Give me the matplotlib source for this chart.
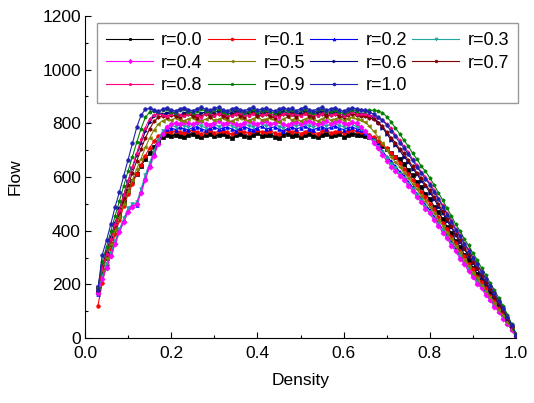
import numpy as np
import matplotlib
matplotlib.use("Agg")
import matplotlib.pyplot as plt
from matplotlib.ticker import MultipleLocator

plt.rcParams['font.family'] = ['Liberation Sans', 'DejaVu Sans']

# Density grid (0.03 ... 1.00, step 0.01)
density = np.round(np.arange(3, 101) / 100, 2)

labels = ["r=0.0", "r=0.1", "r=0.2", "r=0.3", "r=0.4", "r=0.5",
          "r=0.6", "r=0.7", "r=0.8", "r=0.9", "r=1.0"]

flow_r00 = [172, 250, 298, 352, 405, 455, 505, 548, 585, 612,
            640, 668, 690, 712, 732, 748, 756, 752, 758, 754,
            750, 757, 760, 753, 748, 755, 762, 751, 756, 759,
            752, 746, 755, 760, 754, 749, 757, 763, 752, 755,
            758, 750, 744, 756, 761, 753, 757, 748, 755, 760,
            754, 748, 757, 762, 751, 755, 759, 750, 757, 762,
            758, 756, 754, 750, 742, 730, 716, 703, 688, 676,
            666, 650, 625, 606, 580, 561, 536, 518, 490, 468,
            444, 415, 392, 362, 340, 311, 290, 262, 240, 213,
            190, 168, 141, 119, 91, 67, 38, 12]
flow_r01 = [120, 205, 272, 330, 386, 440, 492, 536, 574, 612,
            646, 680, 708, 734, 752, 763, 770, 766, 772, 767,
            763, 770, 774, 766, 761, 769, 775, 765, 770, 773,
            766, 760, 769, 774, 768, 763, 771, 777, 766, 769,
            772, 764, 759, 770, 775, 767, 771, 762, 769, 774,
            768, 762, 771, 776, 765, 769, 773, 764, 771, 775,
            770, 768, 765, 758, 748, 735, 722, 707, 690, 673,
            654, 631, 613, 588, 570, 544, 527, 501, 480, 452,
            428, 406, 377, 355, 326, 305, 276, 256, 229, 209,
            186, 158, 137, 110, 89, 62, 38, 9]
flow_r02 = [165, 226, 268, 312, 356, 402, 440, 478, 492, 497,
            546, 600, 646, 690, 728, 764, 778, 782, 777, 785,
            780, 776, 784, 788, 779, 774, 782, 787, 778, 783,
            786, 779, 773, 782, 788, 780, 776, 784, 789, 779,
            783, 787, 778, 772, 781, 786, 779, 784, 789, 780,
            776, 783, 788, 779, 785, 790, 781, 777, 784, 786,
            780, 776, 765, 752, 737, 718, 697, 676, 659, 640,
            620, 605, 582, 562, 538, 520, 496, 477, 452, 430,
            405, 383, 356, 334, 307, 285, 258, 237, 213, 192,
            170, 146, 125, 100, 80, 55, 33, 7]
flow_r03 = [175, 232, 275, 318, 362, 405, 446, 484, 498, 505,
            555, 608, 652, 698, 738, 770, 786, 792, 787, 795,
            790, 785, 793, 797, 789, 784, 792, 796, 788, 793,
            796, 789, 783, 792, 798, 790, 786, 794, 799, 789,
            793, 797, 788, 782, 791, 796, 789, 794, 799, 790,
            786, 793, 798, 789, 795, 800, 791, 787, 794, 796,
            788, 780, 766, 750, 733, 713, 693, 670, 650, 632,
            613, 596, 574, 555, 532, 513, 490, 470, 445, 424,
            401, 375, 352, 326, 304, 278, 256, 230, 210, 186,
            165, 143, 121, 99, 76, 54, 31, 7]
flow_r04 = [168, 220, 262, 305, 350, 395, 432, 470, 488, 500,
            540, 590, 637, 680, 722, 760, 785, 798, 802, 797,
            805, 800, 796, 804, 808, 799, 795, 803, 807, 798,
            802, 806, 797, 793, 802, 808, 800, 796, 804, 809,
            799, 803, 807, 798, 792, 801, 806, 799, 804, 809,
            800, 796, 803, 808, 799, 805, 810, 801, 797, 804,
            800, 786, 770, 749, 727, 707, 683, 661, 639, 623,
            604, 590, 566, 549, 524, 507, 482, 464, 438, 419,
            392, 372, 344, 324, 296, 276, 248, 229, 203, 185,
            160, 142, 116, 98, 72, 54, 28, 6]
flow_r05 = [185, 252, 300, 352, 401, 452, 500, 546, 590, 630,
            668, 710, 745, 775, 797, 810, 816, 812, 819, 814,
            810, 817, 821, 813, 808, 816, 822, 811, 816, 820,
            813, 807, 816, 821, 815, 810, 818, 824, 813, 816,
            819, 811, 806, 817, 822, 814, 818, 809, 816, 821,
            815, 809, 818, 823, 812, 816, 820, 811, 818, 822,
            817, 813, 805, 789, 770, 749, 726, 700, 676, 656,
            638, 616, 598, 574, 555, 530, 512, 487, 467, 440,
            419, 391, 369, 341, 319, 291, 270, 243, 223, 197,
            177, 151, 131, 105, 84, 58, 35, 8]
flow_r06 = [190, 268, 322, 376, 430, 483, 534, 586, 634, 683,
            727, 770, 804, 828, 837, 833, 840, 844, 836, 831,
            839, 845, 835, 830, 838, 843, 834, 840, 846, 836,
            832, 840, 845, 837, 833, 841, 847, 836, 839, 843,
            835, 830, 839, 845, 838, 842, 833, 840, 846, 837,
            834, 841, 846, 836, 840, 844, 835, 831, 839, 844,
            840, 836, 835, 829, 820, 804, 784, 761, 739, 720,
            699, 676, 657, 631, 612, 585, 567, 542, 519, 490,
            466, 436, 412, 382, 359, 330, 307, 279, 257, 228,
            206, 178, 155, 126, 103, 72, 44, 13]
flow_r07 = [186, 262, 314, 368, 421, 470, 521, 569, 616, 660,
            704, 745, 779, 807, 822, 829, 825, 832, 827, 822,
            830, 835, 826, 821, 829, 834, 825, 831, 836, 827,
            823, 831, 836, 828, 824, 832, 837, 827, 830, 834,
            826, 821, 830, 835, 829, 833, 824, 831, 837, 828,
            825, 832, 836, 827, 831, 835, 826, 822, 830, 835,
            831, 827, 826, 821, 815, 801, 790, 768, 747, 728,
            705, 688, 662, 641, 616, 596, 571, 551, 524, 499,
            472, 443, 418, 388, 364, 336, 312, 284, 261, 233,
            210, 182, 158, 130, 105, 74, 45, 12]
flow_r08 = [180, 258, 313, 368, 425, 478, 533, 584, 638, 689,
            740, 784, 818, 830, 836, 831, 827, 835, 840, 830,
            826, 834, 839, 830, 825, 833, 838, 829, 835, 840,
            831, 827, 835, 840, 832, 828, 836, 841, 830, 834,
            838, 829, 824, 833, 839, 832, 836, 827, 834, 840,
            833, 828, 836, 841, 830, 834, 838, 829, 836, 841,
            836, 833, 835, 830, 827, 821, 813, 799, 782, 758,
            738, 714, 693, 667, 646, 619, 601, 576, 552, 521,
            496, 465, 440, 408, 384, 354, 331, 302, 278, 248,
            224, 195, 170, 140, 114, 82, 50, 14]
flow_r09 = [186, 285, 340, 398, 456, 511, 568, 623, 676, 729,
            780, 822, 842, 847, 841, 849, 853, 844, 840, 848,
            852, 843, 839, 847, 853, 845, 841, 849, 854, 843,
            840, 848, 852, 845, 839, 847, 853, 842, 846, 850,
            843, 838, 847, 852, 846, 850, 841, 848, 853, 844,
            840, 848, 853, 843, 847, 851, 842, 838, 846, 851,
            847, 850, 846, 849, 848, 846, 840, 825, 806, 783,
            761, 737, 715, 689, 667, 641, 621, 597, 571, 541,
            514, 483, 456, 424, 399, 370, 345, 316, 291, 261,
            235, 205, 179, 149, 121, 87, 53, 15]
flow_r10 = [180, 310, 365, 425, 490, 545, 605, 665, 725, 785,
            830, 852, 856, 849, 845, 853, 858, 850, 846, 854,
            859, 851, 847, 855, 860, 852, 848, 856, 861, 850,
            846, 854, 859, 851, 847, 855, 860, 849, 853, 857,
            850, 845, 854, 859, 852, 856, 847, 855, 860, 851,
            847, 855, 860, 850, 854, 858, 849, 845, 853, 858,
            854, 851, 848, 842, 834, 823, 812, 793, 771, 751,
            728, 709, 684, 662, 637, 616, 592, 572, 543, 518,
            490, 460, 434, 403, 379, 351, 326, 298, 274, 245,
            221, 192, 167, 138, 112, 80, 49, 13]

series = [flow_r00, flow_r01, flow_r02, flow_r03, flow_r04, flow_r05,
          flow_r06, flow_r07, flow_r08, flow_r09, flow_r10]

colors = ['#000000', '#FF0000', '#0000FF', '#20A8A0', '#FF00FF', '#808000',
          '#000080', '#800000', '#FF0080', '#008000', '#2020B0']
markers = ['s', 'o', '^', 'v', 'D', '<', '>', 'h', '*', 'p', 'o']

fig = plt.figure(figsize=(5.34, 4.03), dpi=100)
ax = fig.add_axes([85 / 534, 1 - 338 / 403, 431 / 534, 322 / 403])

handles = []
for lab, ys, c, m in zip(labels, series, colors, markers):
    h, = ax.plot(density, ys, color=c, marker=m, markersize=2.6, linewidth=0.8,
                 label=lab, markeredgewidth=0.5)
    handles.append(h)

ax.set_xlim(0, 1.0)
ax.set_ylim(0, 1200)
ax.xaxis.set_major_locator(MultipleLocator(0.2))
ax.xaxis.set_minor_locator(MultipleLocator(0.1))
ax.yaxis.set_major_locator(MultipleLocator(200))
ax.yaxis.set_minor_locator(MultipleLocator(100))
ax.set_xticks([0, 0.2, 0.4, 0.6, 0.8, 1.0])
ax.set_xticklabels(['0.0', '0.2', '0.4', '0.6', '0.8', '1.0'])
ax.tick_params(which='major', direction='in', length=4.5, width=0.8,
               labelsize=12.5)
ax.tick_params(axis='x', which='major', pad=5.5)
ax.tick_params(axis='y', which='major', pad=3)
ax.tick_params(which='minor', direction='in', length=2.5, width=0.8)
ax.spines['top'].set_visible(False)
ax.spines['right'].set_visible(False)
ax.set_xlabel('Density', fontsize=12.5, labelpad=9)
ax.set_ylabel('Flow', fontsize=12.5, labelpad=14)

# row-wise legend order (matplotlib fills columns first)
order = [0, 4, 8, 1, 5, 9, 2, 6, 10, 3, 7]
leg = ax.legend([handles[i] for i in order], [labels[i] for i in order],
                loc='upper left', bbox_to_anchor=(0.028, 0.978), ncol=4,
                fontsize=13, frameon=True, fancybox=False, edgecolor='#808080',
                borderaxespad=0, handlelength=2.6, handletextpad=0.45,
                columnspacing=0.3, labelspacing=0.3, borderpad=0.5,
                markerscale=0.8)
leg.get_frame().set_linewidth(1.0)

fig.savefig('out.png', dpi=100)
